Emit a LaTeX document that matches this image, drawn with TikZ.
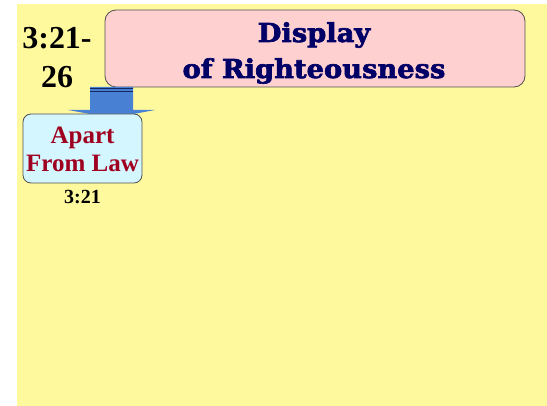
\documentclass[tikz,border=0pt]{standalone}
\usepackage{fontspec}
\setmainfont{Liberation Serif}
\newfontfamily\titlefont{DejaVu Serif}[BoldFeatures={FakeBold=2.5},FakeStretch=1.05]
\begin{document}
\begin{tikzpicture}[x=1pt,y=-1pt,
  bgyellow/.style={fill=bgY,draw=none},
  titlebox/.style={draw=boxedge,line width=0.8pt,fill=pinkF,rounded corners=11pt},
  subbox/.style={draw=boxedge,line width=0.8pt,fill=lblueF,rounded corners=8pt},
  reftext/.style={font=\bfseries\fontsize{32}{39}\selectfont,text=black,align=center,inner sep=0pt},
  titletext/.style={font=\titlefont\bfseries\fontsize{26}{36}\selectfont,text=navyT,align=center,inner sep=0pt},
  subtext/.style={font=\bfseries\fontsize{25}{28}\selectfont,text=redT,align=center,inner sep=0pt},
  smallref/.style={font=\bfseries\fontsize{20}{22}\selectfont,text=black,inner sep=0pt},
  blockarrow/.style={fill=arrowB,draw=none}]
\definecolor{bgY}{RGB}{255,249,158}
\definecolor{pinkF}{RGB}{255,208,208}
\definecolor{lblueF}{RGB}{212,246,255}
\definecolor{boxedge}{RGB}{80,80,80}
\definecolor{navyT}{RGB}{0,0,102}
\definecolor{redT}{RGB}{160,0,32}
\definecolor{arrowB}{RGB}{72,128,212}
\definecolor{arrowD}{RGB}{20,40,100}
\useasboundingbox (0,0) rectangle (547,406);
\fill[bgyellow] (17,4) rectangle (547,406);
% title box
\draw[titlebox] (105,10) rectangle (525,87);
\node[titletext] (title) at (314,53) {Display\\of Righteousness};
% reference
\node[reftext] (ref) at (57,58) {3:21-\\26};
% block arrow
\coordinate (atop) at (112,87);
\coordinate (atip) at (112,118);
\fill[blockarrow] (90,87) -- (133,87) -- (133,110) -- (155,110) -- (atip) -- (68,110) -- (90,110) -- cycle;
\draw[arrowD,line width=1.2pt] (90,88.5) -- (133,88.5);
\draw[arrowD,line width=0.6pt] (90,91.5) -- (133,91.5);
% sub box
\draw[subbox] (23,114) rectangle (142,183);
\node[subtext] (sub) at (82.5,149) {Apart\\From Law};
\node[smallref] (subref) at (82.5,197) {3:21};
\end{tikzpicture}
\end{document}
